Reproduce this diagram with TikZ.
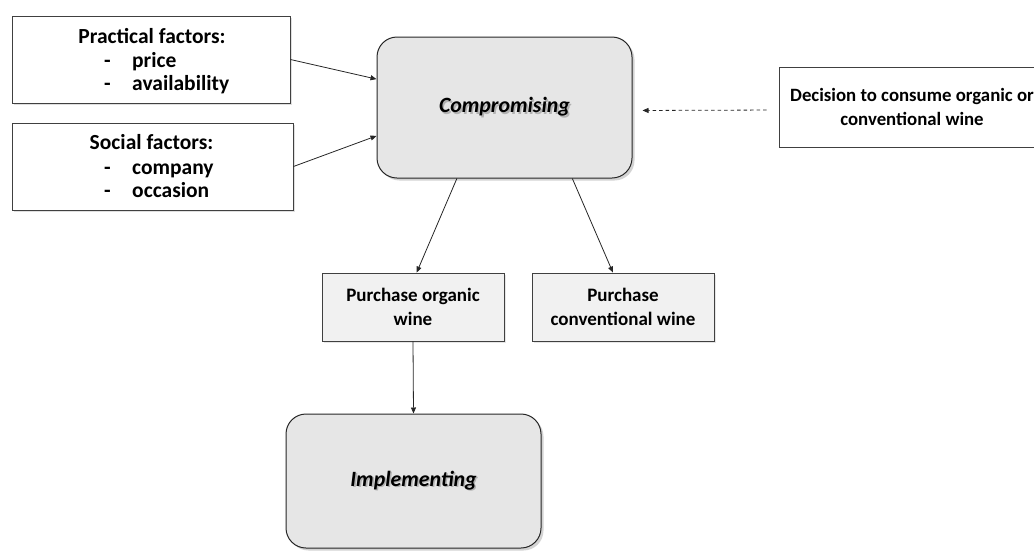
\documentclass[tikz,border=0pt]{standalone}
\usepackage{fontspec}
\setmainfont{Carlito}
\usetikzlibrary{arrows.meta,calc,shadows}

\definecolor{edgegray}{HTML}{404040}
\definecolor{stagefill}{HTML}{E6E6E6}
\definecolor{actfill}{HTML}{F1F1F1}

% bold italic label with a soft offset shadow behind it
\newcommand{\shadowlabel}[1]{%
  \makebox[0pt][l]{\hspace{1.6pt}\raisebox{-1.6pt}{\textcolor{black!30}{#1}}}#1}

\tikzset{
  every node/.style={font=\fontsize{21.5}{24}\selectfont\bfseries},
  factorbox/.style={draw=edgegray, line width=0.9pt, fill=white, inner sep=0pt,
    drop shadow={opacity=0.25, shadow xshift=1.5pt, shadow yshift=-1.5pt}},
  stagebox/.style={draw=black!85, line width=1pt, fill=stagefill, rounded corners=20pt,
    inner sep=0pt, font=\fontsize{21.8}{26}\selectfont\bfseries\itshape,
    drop shadow={opacity=0.35, shadow xshift=2.5pt, shadow yshift=-2.5pt}},
  actbox/.style={draw=edgegray, line width=0.9pt, fill=actfill, inner sep=0pt, align=center,
    font=\fontsize{19}{23.5}\selectfont\bfseries,
    drop shadow={opacity=0.2, shadow xshift=1.5pt, shadow yshift=-1.5pt}},
  decbox/.style={draw=edgegray, line width=0.9pt, fill=white, inner sep=0pt, align=center,
    font=\fontsize{18.8}{23.5}\selectfont\bfseries},
  flow/.style={draw=black!85, line width=0.8pt, -{Triangle[length=6pt,width=5pt]}},
  hint/.style={flow, dashed, dash pattern=on 3.5pt off 3pt},
  txt/.style={inner sep=0pt, anchor=base},
  item/.style={inner sep=0pt, anchor=base west},
}

\begin{document}
\begin{tikzpicture}[x=1pt, y=-1pt]
\useasboundingbox (0,0) rectangle (1034,550);
\clip (0,0) rectangle (1034,550);

% factor boxes on the left
\node[factorbox, minimum width=278pt, minimum height=87pt] (prac) at (151,59.5) {};
\node[txt] (pracT) at (152,43) {Practical factors:};
\node[item] (pracD1) at (104,67) {-};
\node[item] (pracI1) at (132,67) {price};
\node[item] (pracD2) at (104,90.5) {-};
\node[item] (pracI2) at (132,90.5) {availability};

\node[factorbox, minimum width=281pt, minimum height=87pt] (soc) at (152.5,166.5) {};
\node[txt] (socT) at (151.5,149) {Social factors:};
\node[item] (socD1) at (104,174) {-};
\node[item] (socI1) at (132,174) {company};
\node[item] (socD2) at (104,197.5) {-};
\node[item] (socI2) at (132,197.5) {occasion};

% stages
\node[stagebox, minimum width=255pt, minimum height=141pt] (comp) at (504.5,107.5) {\shadowlabel{Compromising}};
\node[stagebox, minimum width=255pt, minimum height=134pt] (impl) at (413.5,481) {\shadowlabel{Implementing}};

% decision box on the right
\node[decbox, minimum width=266pt, minimum height=80pt] (dec) at (912,107)
  {Decision to consume organic or\\conventional wine};

% purchase options
\node[actbox, minimum width=182pt, minimum height=68pt] (porg) at (413,307) {Purchase organic\\wine};
\node[actbox, minimum width=182pt, minimum height=68pt] (pconv) at (623,307) {Purchase\\conventional wine};

% connectors
\draw[flow] (prac.east) -- ($(comp.north west)!0.30!(comp.south west)$);
\draw[flow] (soc.east) -- ($(comp.north west)!0.70!(comp.south west)$);
\draw[hint, shorten <=12pt, shorten >=10pt] ([yshift=-3pt]dec.west) -- ([yshift=-3pt]comp.east);
\draw[flow] ($(comp.south west)!0.314!(comp.south east)$) -- ($(porg.north west)!0.52!(porg.north east)$);
\draw[flow] ($(comp.south west)!0.765!(comp.south east)$) -- ($(pconv.north west)!0.445!(pconv.north east)$);
\draw[flow] (porg.south) -- (impl.north);
\end{tikzpicture}
\end{document}
